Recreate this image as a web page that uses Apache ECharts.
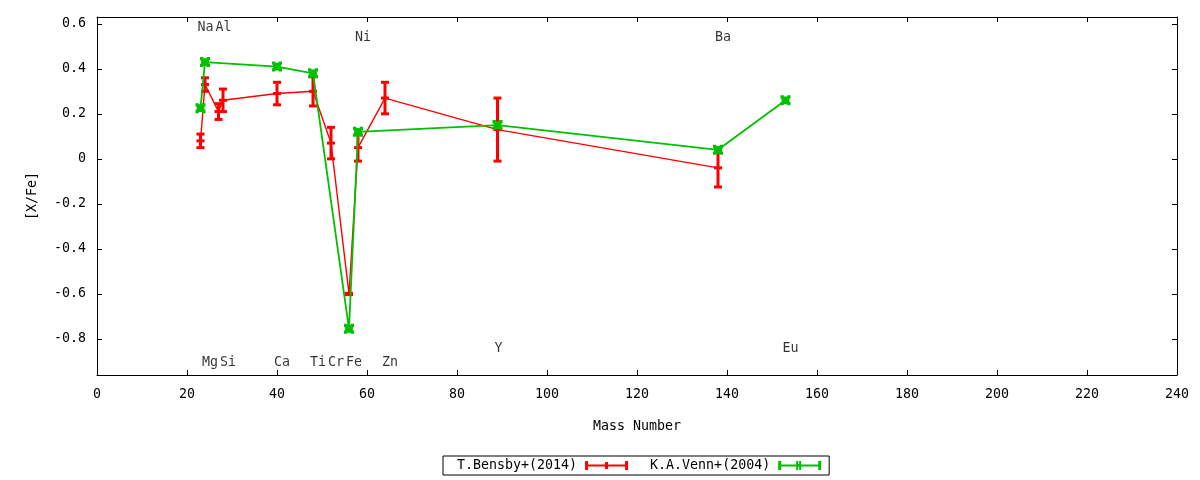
<!DOCTYPE html>
<html>
<head>
<meta charset="utf-8">
<script src="https://cdn.jsdelivr.net/npm/echarts@6/dist/echarts.min.js"></script>
<style>
  html, body { margin: 0; padding: 0; background: #fff; }
  #main { width: 1200px; height: 480px; }
</style>
</head>
<body>
<div id="main"></div>
<script>
// T.Bensby+(2014)
var bensbyMass = [23, 24, 27, 28, 40, 48, 52, 56, 58, 64, 89, 138];
var bensbyVal  = [0.08, 0.33, 0.21, 0.26, 0.29, 0.30, 0.07, -0.60, 0.05, 0.27, 0.13, -0.04];
var bensbyErr  = [0.03, 0.03, 0.035, 0.05, 0.05, 0.065, 0.07, 0.003, 0.06, 0.07, 0.14, 0.085];

// K.A.Venn+(2004)
var vennMass = [23, 24, 40, 48, 56, 58, 89, 138, 153];
var vennVal  = [0.225, 0.43, 0.41, 0.38, -0.755, 0.12, 0.15, 0.04, 0.26];

// element labels
var elemName = ['Na', 'Al', 'Ni', 'Ba', 'Mg', 'Si', 'Ca', 'Ti', 'Cr', 'Fe', 'Zn', 'Y', 'Eu'];
var elemMass = [23, 27, 58, 138, 24, 28, 40, 48, 52, 56, 64, 89, 153];
var elemY    = [0.583, 0.583, 0.539, 0.539, -0.906, -0.906, -0.906, -0.906, -0.906, -0.906, -0.906, -0.844, -0.844];

var FONT = 'DejaVu Sans Mono';
var RED = '#ff0000';
var GREEN = '#00c000';

var chart = echarts.init(document.getElementById('main'));

function errorBars(color, lw, capW) {
    return function (params, api) {
        var x = api.value(0), y = api.value(1), e = api.value(2);
        var top = api.coord([x, y + e]);
        var bot = api.coord([x, y - e]);
        var mid = api.coord([x, y]);
        var h = capW / 2;
        var st = { stroke: color, lineWidth: lw };
        return {
            type: 'group',
            children: [
                { type: 'line', shape: { x1: top[0], y1: top[1], x2: bot[0], y2: bot[1] }, style: st },
                { type: 'line', shape: { x1: top[0] - h, y1: top[1], x2: top[0] + h, y2: top[1] }, style: st },
                { type: 'line', shape: { x1: bot[0] - h, y1: bot[1], x2: bot[0] + h, y2: bot[1] }, style: st },
                { type: 'line', shape: { x1: mid[0] - h, y1: mid[1], x2: mid[0] + h, y2: mid[1] }, style: st }
            ]
        };
    };
}

var axisCommon = {
    axisLine: { show: true, onZero: false, lineStyle: { color: '#000', width: 1 } },
    axisTick: { show: true, inside: true, length: 5, lineStyle: { color: '#000' } },
    splitLine: { show: false }
};

var option = {
    backgroundColor: '#fff',
    animation: false,
    grid: { left: 97, right: 23, top: 17, bottom: 105 },
    xAxis: [
        Object.assign({
            type: 'value', min: 0, max: 240, interval: 20, position: 'bottom',
            name: 'Mass Number', nameLocation: 'middle', nameGap: 45,
            nameTextStyle: { fontFamily: FONT, fontSize: 13.3, color: '#000' },
            axisLabel: { fontFamily: FONT, fontSize: 13.3, color: '#000', margin: 13 }
        }, axisCommon),
        Object.assign({
            type: 'value', min: 0, max: 240, interval: 20, position: 'top',
            axisLabel: { show: false }
        }, axisCommon)
    ],
    yAxis: [
        Object.assign({
            type: 'value', min: -0.96, max: 0.63, splitNumber: 8, position: 'left',
            name: '[X/Fe]', nameLocation: 'middle', nameGap: 58, nameRotate: 90,
            nameTextStyle: { fontFamily: FONT, fontSize: 13.3, color: '#000' },
            axisLabel: {
                fontFamily: FONT, fontSize: 13.3, color: '#000', margin: 11,
                showMinLabel: false, showMaxLabel: false,
                formatter: function (v) {
                    if (Math.abs(v * 5 - Math.round(v * 5)) > 1e-6) return '';
                    if (Math.abs(v) < 1e-9) return '0';
                    return v.toFixed(1);
                }
            }
        }, axisCommon),
        Object.assign({
            type: 'value', min: -0.96, max: 0.63, splitNumber: 8, position: 'right',
            axisLabel: { show: false }
        }, axisCommon)
    ],
    legend: {
        bottom: 5,
        left: 443,
        orient: 'horizontal',
        align: 'right',
        itemWidth: 43,
        itemHeight: 9,
        itemGap: 22,
        padding: [3, 8, 3, 14],
        borderColor: '#000',
        borderWidth: 1,
        borderRadius: 0,
        textStyle: { fontFamily: FONT, fontSize: 13.3, color: '#000', padding: [0, 3, 0, 0] },
        data: [
            { name: 'T.Bensby+(2014)', icon: 'path://M0,3.5H43V5.5H0Z M0,0H3V9H0Z M40,0H43V9H40Z M20,1H23V8H20Z' },
            { name: 'K.A.Venn+(2004)', icon: 'path://M0,3.5H43V5.5H0Z M0,0H3V9H0Z M40,0H43V9H40Z M18,0H20V9H18Z M21,0H23V9H21Z M18,3H23V6H18Z' }
        ]
    },
    series: [
        {
            name: 'T.Bensby+(2014)',
            type: 'line',
            data: bensbyMass.map(function (m, i) { return [m, bensbyVal[i]]; }),
            symbol: 'none',
            color: RED,
            lineStyle: { color: RED, width: 1.4 },
            z: 2
        },
        {
            name: 'T.Bensby+(2014)',
            type: 'custom',
            renderItem: errorBars(RED, 3, 8),
            data: bensbyMass.map(function (m, i) { return [m, bensbyVal[i], bensbyErr[i]]; }),
            encode: { x: 0, y: 1 },
            color: RED,
            z: 3
        },
        {
            name: 'K.A.Venn+(2004)',
            type: 'line',
            data: vennMass.map(function (m, i) { return [m, vennVal[i]]; }),
            symbol: 'path://M0,0H3V1H6V0H9V3H8V6H9V9H6V8H3V9H0V6H1V3H0Z',
            symbolSize: 10,
            showAllSymbol: true,
            color: GREEN,
            itemStyle: { color: GREEN },
            lineStyle: { color: GREEN, width: 1.8 },
            z: 4
        },
        {
            name: 'labels',
            type: 'scatter',
            data: elemMass.map(function (m, i) { return [m, elemY[i], elemName[i]]; }),
            symbolSize: 0,
            silent: true,
            label: {
                show: true,
                position: 'right',
                distance: -3,
                formatter: function (p) { return p.value[2]; },
                fontFamily: FONT,
                fontSize: 13.3,
                color: '#000'
            },
            z: 5
        }
    ]
};

chart.setOption(option);

window.onresize = chart.resize;
</script>
</body>
</html>
